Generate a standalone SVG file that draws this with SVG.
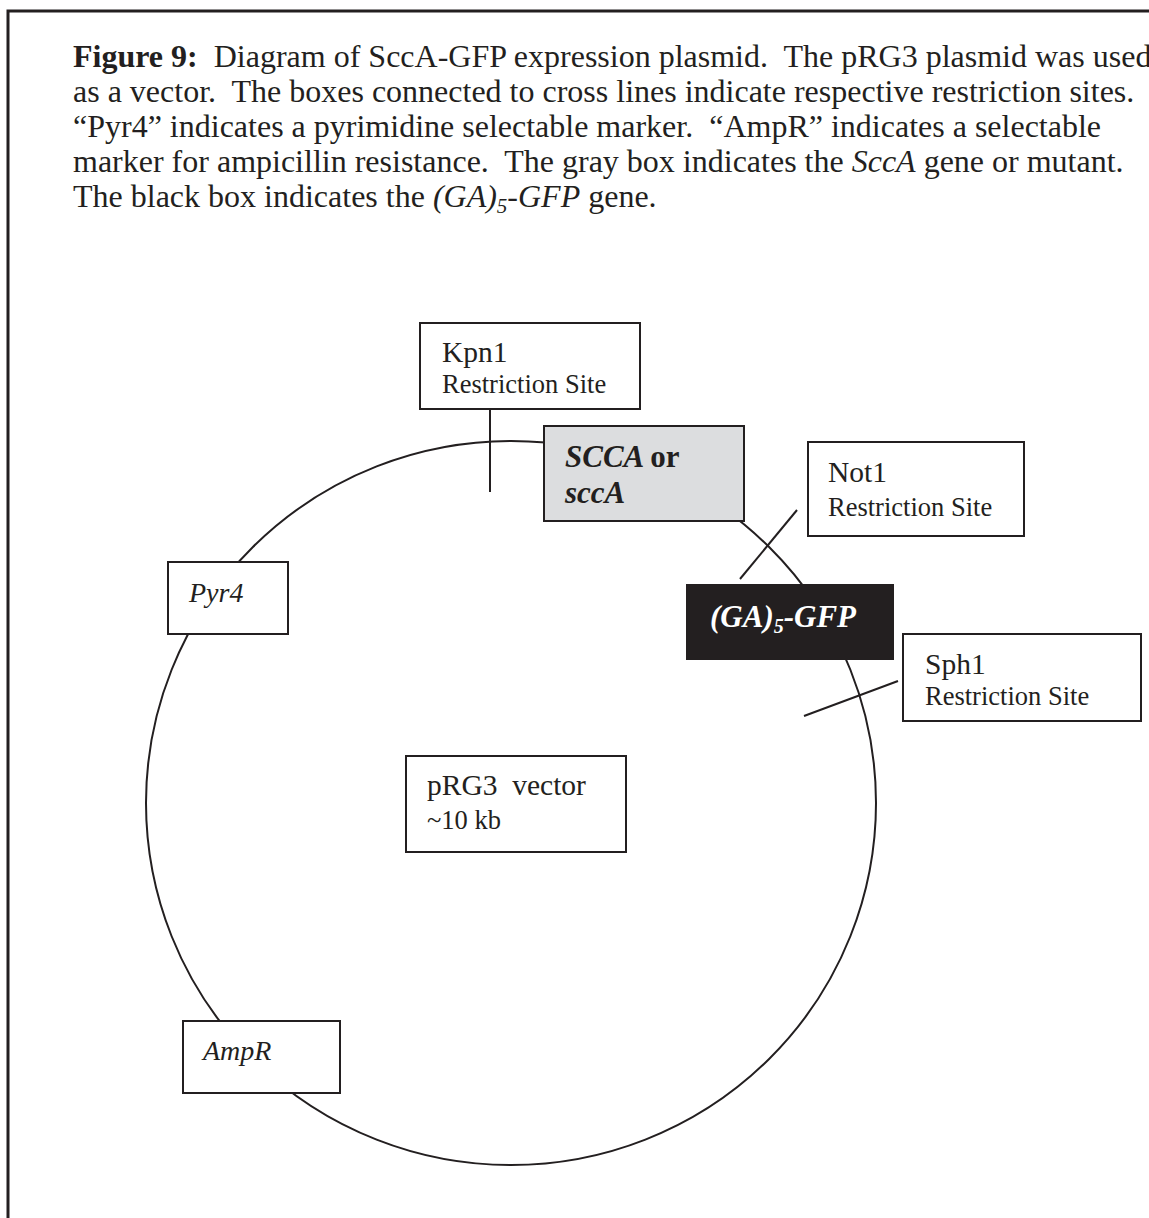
<svg xmlns="http://www.w3.org/2000/svg" width="1149" height="1218" viewBox="0 0 1149 1218">
<style>
text{font-family:"Liberation Serif","Times New Roman",serif;fill:#231f20}
.cap{font-size:32px}
.box{fill:#fff;stroke:#231f20;stroke-width:2}
.ln{stroke:#231f20;stroke-width:2;fill:none}
.big{font-size:29.5px}
.small{font-size:26.5px}
.bi{font-size:31px;font-weight:bold;font-style:italic}
</style>
<rect width="1149" height="1218" fill="#fff"/>
<path d="M8,1218 V11 H1149" fill="none" stroke="#231f20" stroke-width="3"/>
<g id="caption" class="cap">
<text x="73" y="67" xml:space="preserve"><tspan font-weight="bold">Figure 9:</tspan>  Diagram of SccA-GFP expression plasmid.  The pRG3 plasmid was used</text>
<text x="73" y="102" xml:space="preserve">as a vector.  The boxes connected to cross lines indicate respective restriction sites.</text>
<text x="73" y="137" xml:space="preserve">“Pyr4” indicates a pyrimidine selectable marker.  “AmpR” indicates a selectable</text>
<text x="73" y="172" xml:space="preserve">marker for ampicillin resistance.  The gray box indicates the <tspan font-style="italic">SccA</tspan> gene or mutant.</text>
<text x="73" y="207" xml:space="preserve">The black box indicates the <tspan font-style="italic">(GA)</tspan><tspan font-style="italic" font-size="21" dy="6">5</tspan><tspan font-style="italic" dy="-6">-GFP</tspan> gene.</text>
</g>
<g id="connectors">
<ellipse cx="511" cy="803" rx="365" ry="362" class="ln" stroke-width="1.6"/>
<line x1="490" y1="409" x2="490" y2="492" class="ln"/>
<line x1="797" y1="510" x2="740" y2="579" class="ln" stroke-width="1.6"/>
<line x1="804" y1="716" x2="898" y2="681" class="ln" stroke-width="1.6"/>
</g>
<g id="kpn1">
<rect x="420" y="323" width="220" height="86" class="box"/>
<text x="442" y="362" class="big">Kpn1</text>
<text x="442" y="393" class="small">Restriction Site</text>
</g>
<g id="scca">
<rect x="544" y="426" width="200" height="95" fill="#dcdddf" stroke="#231f20" stroke-width="2"/>
<text x="565" y="467" class="bi">SCCA <tspan font-style="normal">or</tspan></text>
<text x="565" y="503" class="bi">sccA</text>
</g>
<g id="not1">
<rect x="808" y="442" width="216" height="94" class="box"/>
<text x="828" y="482" class="big">Not1</text>
<text x="828" y="516" class="small">Restriction Site</text>
</g>
<g id="gfp">
<rect x="687" y="585" width="206" height="74" fill="#231f20" stroke="#231f20" stroke-width="2"/>
<text x="710" y="627" class="bi" style="fill:#fff">(GA)<tspan font-size="20" dy="6">5</tspan><tspan dy="-6">-GFP</tspan></text>
</g>
<g id="sph1">
<rect x="903" y="634" width="238" height="87" class="box"/>
<text x="925" y="674" class="big">Sph1</text>
<text x="925" y="705" class="small">Restriction Site</text>
</g>
<g id="pyr4">
<rect x="168" y="562" width="120" height="72" class="box"/>
<text x="189" y="602" font-size="28" font-style="italic">Pyr4</text>
</g>
<g id="prg3">
<rect x="406" y="756" width="220" height="96" class="box"/>
<text x="427" y="795" class="big" xml:space="preserve">pRG3  vector</text>
<text x="427" y="829" class="small">~10 kb</text>
</g>
<g id="ampr">
<rect x="183" y="1021" width="157" height="72" class="box"/>
<text x="203" y="1060" font-size="28" font-style="italic">AmpR</text>
</g>
</svg>
